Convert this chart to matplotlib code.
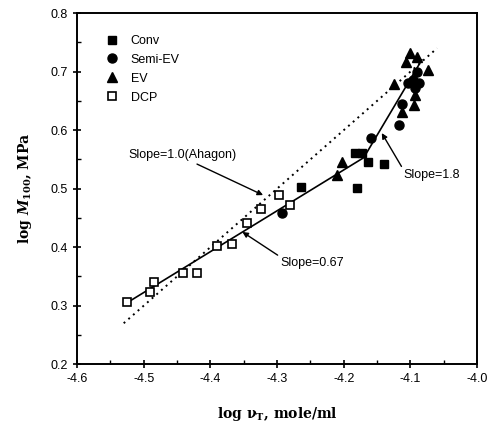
import numpy as np
import matplotlib
matplotlib.use("Agg")
import matplotlib.pyplot as plt

# data: log crosslink density vs log M100
conv_x = [-4.264, -4.180, -4.183, -4.173, -4.164, -4.140]
conv_y = [0.503, 0.501, 0.561, 0.561, 0.545, 0.542]

semi_x = [-4.293, -4.159, -4.117, -4.113, -4.104, -4.096, -4.087, -4.090, -4.093]
semi_y = [0.458, 0.586, 0.609, 0.644, 0.680, 0.685, 0.680, 0.699, 0.672]

ev_x = [-4.210, -4.203, -4.125, -4.100, -4.090, -4.107, -4.073, -4.093, -4.094, -4.113]
ev_y = [0.523, 0.545, 0.679, 0.732, 0.725, 0.716, 0.703, 0.660, 0.643, 0.631]

dcp_x = [-4.525, -4.490, -4.485, -4.441, -4.420, -4.390, -4.368, -4.345, -4.324, -4.297, -4.280]
dcp_y = [0.306, 0.323, 0.340, 0.356, 0.356, 0.402, 0.405, 0.441, 0.465, 0.489, 0.472]

# fitted lines
fit_x = [-4.525, -4.170, -4.083]
fit_y = [0.305, 0.553, 0.720]
ahagon_x = [-4.530, -4.060]
ahagon_y = [0.270, 0.740]

plt.rcParams['font.family'] = ['Liberation Sans', 'DejaVu Sans']
plt.rcParams['mathtext.fontset'] = 'dejavuserif'

fig = plt.figure(figsize=(4.97, 4.23), dpi=100)
ax = fig.add_axes([0.155, 0.139, 0.805, 0.830])

ax.plot(ahagon_x, ahagon_y, color='black', linestyle=(0, (1, 2.2)), linewidth=1.4)
ax.plot(fit_x, fit_y, color='black', linewidth=1.2)

ax.plot(conv_x, conv_y, 's', color='black', markersize=6, label='Conv')
ax.plot(semi_x, semi_y, 'o', color='black', markersize=6.5, label='Semi-EV')
ax.plot(ev_x, ev_y, '^', color='black', markersize=6.5, label='EV')
ax.plot(dcp_x, dcp_y, 's', markerfacecolor='white', markeredgecolor='black',
        markeredgewidth=1.2, markersize=5.5, label='DCP')

ax.set_xlim(-4.6, -4.0)
ax.set_ylim(0.2, 0.8)
ax.set_xticks(np.arange(-4.6, -3.95, 0.1))
ax.set_xticklabels(['-4.6', '-4.5', '-4.4', '-4.3', '-4.2', '-4.1', '-4.0'])
ax.set_xticks(np.arange(-4.6, -3.99, 0.05), minor=True)
ax.set_yticks(np.arange(0.2, 0.85, 0.1))
ax.set_yticklabels(['0.2', '0.3', '0.4', '0.5', '0.6', '0.7', '0.8'])
ax.set_yticks(np.arange(0.2, 0.81, 0.05), minor=True)
ax.tick_params(which='major', direction='inout', length=6, width=1.2, labelsize=9)
ax.tick_params(which='minor', direction='in', length=3, width=1)
for s in ax.spines.values():
    s.set_linewidth(1.4)

ax.legend(loc='upper left', bbox_to_anchor=(0.04, 0.97), frameon=False,
          fontsize=9, handletextpad=0.9, labelspacing=0.55, handlelength=1.2)

ax.annotate('Slope=1.0(Ahagon)', xy=(-4.321, 0.489), xytext=(-4.523, 0.557),
            fontsize=9, va='center',
            arrowprops=dict(arrowstyle='-|>', color='black', lw=1,
                            shrinkA=0, shrinkB=0, mutation_scale=8,
                            relpos=(0.58, 0.0)))
ax.annotate('Slope=0.67', xy=(-4.352, 0.426), xytext=(-4.295, 0.373),
            fontsize=9, va='center',
            arrowprops=dict(arrowstyle='-|>', color='black', lw=1,
                            shrinkA=0, shrinkB=0, mutation_scale=8,
                            relpos=(0.0, 1.0)))
ax.annotate('Slope=1.8', xy=(-4.143, 0.595), xytext=(-4.111, 0.523),
            fontsize=9, va='center',
            arrowprops=dict(arrowstyle='-|>', color='black', lw=1,
                            shrinkA=0, shrinkB=0, mutation_scale=8,
                            relpos=(0.0, 1.0)))

ax.set_xlabel(r'log $\mathbf{\nu}_{\mathbf{T}}$, mole/ml', family='DejaVu Serif',
              fontweight='bold', fontsize=10, labelpad=14)
ax.set_ylabel(r'log $\mathbfit{M}_{\mathbf{100}}$, MPa', family='DejaVu Serif',
              fontweight='bold', fontsize=10, labelpad=12)

fig.savefig('out.png', dpi=100)
